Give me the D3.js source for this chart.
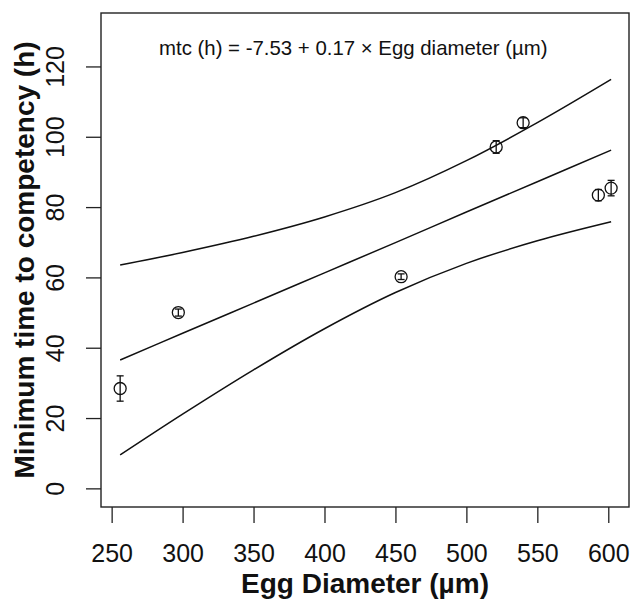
<!DOCTYPE html>
<html>
<head>
<meta charset="utf-8">
<script src="https://cdn.jsdelivr.net/npm/d3@7"></script>
<style>
  body { margin: 0; background: #fff; }
  svg text { font-family: "Liberation Sans", Arial, sans-serif; fill: #111; }
</style>
</head>
<body>
<svg id="chart"></svg>
<script>
// egg diameter (µm) vs minimum time to competency (h)
const eggDiameter = [256, 297, 454, 521, 540, 593, 602]
const mtc = [28.4, 50.0, 60.2, 97.1, 104.0, 83.4, 85.4]
const mtcErr = [3.6, 1.0, 0.8, 1.8, 1.4, 1.6, 2.2]

// fitted line and confidence band
const bandX = [256, 300, 350, 400, 450, 500, 550, 602]
const fitY = [36.5, 44.1, 52.7, 61.3, 69.9, 78.6, 87.2, 96.2]
const upperY = [63.5, 67.1, 71.7, 77.2, 84.1, 93.2, 104.0, 116.3]
const lowerY = [9.5, 21.1, 33.7, 45.4, 55.7, 64.0, 70.4, 75.8]

const xTicks = [250, 300, 350, 400, 450, 500, 550, 600]
const yTicks = [0, 20, 40, 60, 80, 100, 120]

const equation = 'mtc (h) = -7.53 + 0.17 × Egg diameter (µm)'
const xTitle = 'Egg Diameter (µm)'
const yTitle = 'Minimum time to competency (h)'

const width = 630
const height = 599
const box = { left: 101, right: 629, top: 13, bottom: 507 }
const ink = '#111'

const svg = d3.select('#chart')
  .attr('width', width)
  .attr('height', height)

const x = d3.scaleLinear().domain([242.5, 614.6]).range([box.left, box.right])
const y = d3.scaleLinear().domain([-5.3, 135.2]).range([box.bottom, box.top])

// axes (R style: ticks outside, detached labels)
const xAxis = svg.append('g')
  .attr('transform', `translate(0,${box.bottom})`)
  .call(d3.axisBottom(x).tickValues(xTicks).tickSize(16).tickPadding(21).tickSizeOuter(0))
xAxis.select('.domain').remove()
xAxis.selectAll('line').attr('stroke', '#222').attr('stroke-width', 1.3)
xAxis.selectAll('text').attr('font-size', 25).attr('fill', ink)

const yAxis = svg.append('g')
  .attr('transform', `translate(${box.left},0)`)
  .call(d3.axisLeft(y).tickValues(yTicks).tickSize(15).tickSizeOuter(0))
yAxis.select('.domain').remove()
yAxis.selectAll('line').attr('stroke', '#222').attr('stroke-width', 1.3)
yAxis.selectAll('text')
  .attr('font-size', 25)
  .attr('fill', ink)
  .attr('text-anchor', 'middle')
  .attr('x', null)
  .attr('dy', null)
  .attr('transform', 'translate(-37.5,0) rotate(-90)')

// plot frame
svg.append('rect')
  .attr('x', box.left)
  .attr('y', box.top)
  .attr('width', box.right - box.left)
  .attr('height', box.bottom - box.top)
  .attr('fill', 'none')
  .attr('stroke', '#222')
  .attr('stroke-width', 1.4)

// regression line and band
const line = d3.line()
  .x(d => x(d[0]))
  .y(d => y(d[1]))
  .curve(d3.curveCatmullRom)

;[fitY, upperY, lowerY].forEach(series => {
  svg.append('path')
    .datum(bandX.map((v, i) => [v, series[i]]))
    .attr('d', line)
    .attr('fill', 'none')
    .attr('stroke', ink)
    .attr('stroke-width', 1.5)
})

// points with error bars
const pts = svg.append('g')
  .selectAll('g')
  .data(eggDiameter.map((d, i) => ({ x: d, y: mtc[i], e: mtcErr[i] })))
  .enter()
  .append('g')
  .attr('stroke', ink)
  .attr('stroke-width', 1.3)
  .attr('fill', 'none')

pts.append('line')
  .attr('x1', d => x(d.x)).attr('x2', d => x(d.x))
  .attr('y1', d => y(d.y - d.e)).attr('y2', d => y(d.y + d.e))
pts.append('line')
  .attr('x1', d => x(d.x) - 3.5).attr('x2', d => x(d.x) + 3.5)
  .attr('y1', d => y(d.y + d.e)).attr('y2', d => y(d.y + d.e))
pts.append('line')
  .attr('x1', d => x(d.x) - 3.5).attr('x2', d => x(d.x) + 3.5)
  .attr('y1', d => y(d.y - d.e)).attr('y2', d => y(d.y - d.e))
pts.append('circle')
  .attr('cx', d => x(d.x))
  .attr('cy', d => y(d.y))
  .attr('r', 6)

// texts
svg.append('text')
  .attr('x', 159)
  .attr('y', 55)
  .attr('font-size', 20.4)
  .text(equation)

svg.append('text')
  .attr('x', (box.left + box.right) / 2)
  .attr('y', 593)
  .attr('text-anchor', 'middle')
  .attr('font-size', 28)
  .attr('font-weight', 'bold')
  .text(xTitle)

svg.append('text')
  .attr('transform', `translate(33.5,${(box.top + box.bottom) / 2}) rotate(-90)`)
  .attr('text-anchor', 'middle')
  .attr('font-size', 28)
  .attr('font-weight', 'bold')
  .text(yTitle)
</script>
</body>
</html>
